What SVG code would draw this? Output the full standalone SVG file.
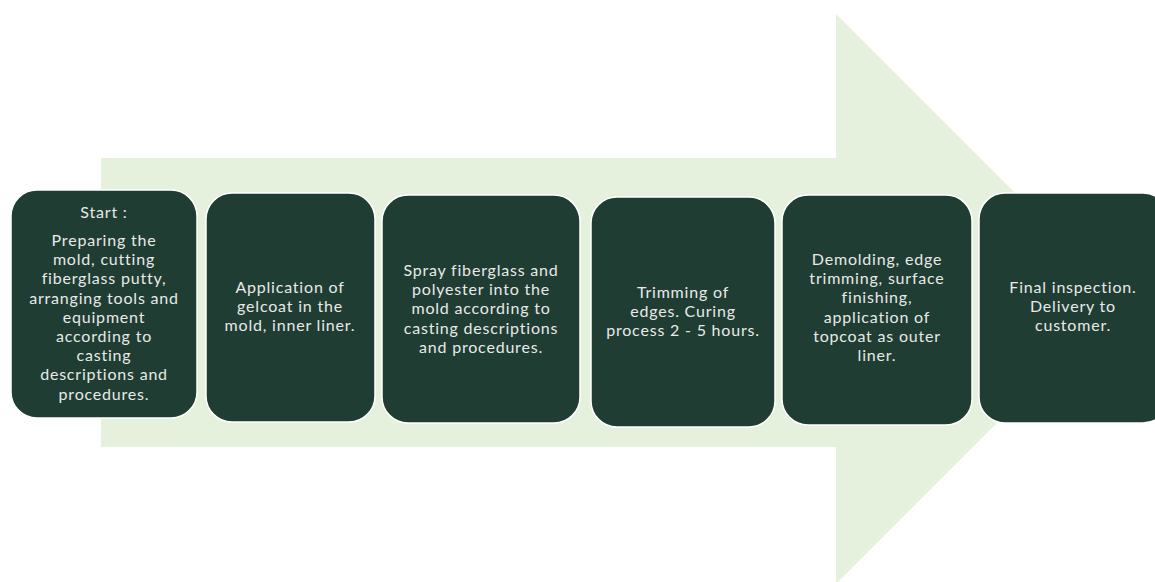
<svg xmlns="http://www.w3.org/2000/svg" width="1155" height="582" viewBox="0 0 1155 582">
<style>
.box{fill:#1F3D33;stroke:#FFFFFF;stroke-width:1.5}
.t{font-family:Lato,"Open Sans","Liberation Sans",sans-serif;font-size:16px;font-weight:400;letter-spacing:0.8px;fill:#E8E9E8;text-anchor:middle}
</style>
<rect width="1155" height="582" fill="#FFFFFF"/>
<g id="arrow">
<path d="M101,158 L836,158 L836,14 L1121,299 L836,584 L836,447 L101,447 Z" fill="#E5F1DC"/>
</g>
<g id="connectors"></g>
<g id="n1">
<rect class="box" x="11" y="190" width="186" height="228" rx="26"/>
<text class="t" x="104" y="218">Start :</text>
<text class="t" x="104" y="246">Preparing the</text>
<text class="t" x="104" y="265.2">mold, cutting</text>
<text class="t" x="104" y="284.4">fiberglass putty,</text>
<text class="t" x="104" y="303.6">arranging tools and</text>
<text class="t" x="104" y="322.8">equipment</text>
<text class="t" x="104" y="342">according to</text>
<text class="t" x="104" y="361.2">casting</text>
<text class="t" x="104" y="380.4">descriptions and</text>
<text class="t" x="104" y="399.6">procedures.</text>
</g>
<g id="n2">
<rect class="box" x="206" y="193" width="169" height="229" rx="26"/>
<text class="t" x="290" y="293">Application of</text>
<text class="t" x="290" y="312.2">gelcoat in the</text>
<text class="t" x="290" y="331.4">mold, inner liner.</text>
</g>
<g id="n3">
<rect class="box" x="382" y="195" width="198" height="228" rx="26"/>
<text class="t" x="481" y="276">Spray fiberglass and</text>
<text class="t" x="481" y="295.2">polyester into the</text>
<text class="t" x="481" y="314.4">mold according to</text>
<text class="t" x="481" y="333.6">casting descriptions</text>
<text class="t" x="481" y="352.8">and procedures.</text>
</g>
<g id="n4">
<rect class="box" x="591" y="197" width="184" height="230" rx="26"/>
<text class="t" x="683" y="298">Trimming of</text>
<text class="t" x="683" y="317.2">edges. Curing</text>
<text class="t" x="683" y="336.4">process 2 - 5 hours.</text>
</g>
<g id="n5">
<rect class="box" x="782" y="195" width="190" height="230" rx="26"/>
<text class="t" x="877" y="265">Demolding, edge</text>
<text class="t" x="877" y="284.2">trimming, surface</text>
<text class="t" x="877" y="303.4">finishing,</text>
<text class="t" x="877" y="322.6">application of</text>
<text class="t" x="877" y="341.8">topcoat as outer</text>
<text class="t" x="877" y="361">liner.</text>
</g>
<g id="n6">
<rect class="box" x="979" y="193" width="190" height="230" rx="26"/>
<text class="t" x="1073" y="293">Final inspection.</text>
<text class="t" x="1073" y="312.2">Delivery to</text>
<text class="t" x="1073" y="331.4">customer.</text>
</g>
</svg>
